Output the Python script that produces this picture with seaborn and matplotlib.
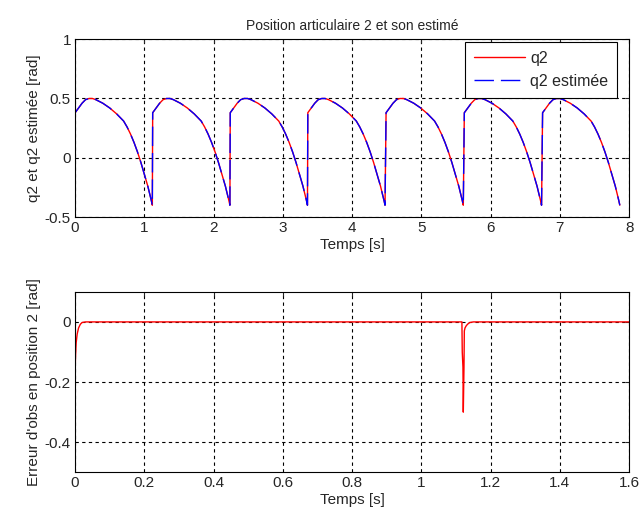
import matplotlib
matplotlib.use("Agg")
import matplotlib.pyplot as plt
import numpy as np
import pandas as pd
import seaborn as sns

# one cycle of the joint trajectory (time within cycle, q2 value)
cycle_tau = [0.0, 0.05, 0.1, 0.15, 0.2, 0.25, 0.3, 0.4, 0.5, 0.6, 0.7, 0.75,
             0.8, 0.85, 0.9, 0.95, 1.0, 1.05, 1.1, 1.115]
cycle_q2 = [0.38, 0.42, 0.46, 0.49, 0.50, 0.50, 0.49, 0.46, 0.42, 0.37, 0.31, 0.26,
            0.20, 0.13, 0.05, -0.04, -0.14, -0.24, -0.36, -0.40]
cycle_starts = [0.0, 1.12, 2.24, 3.36, 4.49, 5.62, 6.75]

# observer error (zoomed on the first 1.6 s)
err_t = [0.0, 0.001, 0.003, 0.006, 0.01, 0.015, 0.02, 0.03, 1.117, 1.118, 1.120,
         1.121, 1.123, 1.124, 1.126, 1.13, 1.135, 1.14, 1.15, 1.6]
err_val = [-0.165, -0.12, -0.07, -0.04, -0.02, -0.008, -0.002, 0.0, 0.0, -0.1,
           -0.15, -0.30, -0.15, -0.03, -0.02, -0.012, -0.006, -0.002, 0.0, 0.0]

# stitch the cycles together
t_all, q_all = [], []
for s in cycle_starts:
    t_all += [s + tau for tau in cycle_tau]
    q_all += cycle_q2
df = pd.DataFrame({"t": t_all, "q2": q_all, "q2_est": q_all})
df_err = pd.DataFrame({"t": err_t, "err": err_val})

sns.set_style("white")
plt.rcParams["font.family"] = ["Liberation Sans", "DejaVu Sans"]
plt.rcParams["font.size"] = 11

fig = plt.figure(figsize=(6.42, 5.23), dpi=100)
ax1 = fig.add_axes([0.117, 0.585, 0.863, 0.340])
ax2 = fig.add_axes([0.117, 0.097, 0.863, 0.345])

sns.lineplot(data=df, x="t", y="q2", ax=ax1, color="#ff0000", lw=1,
             estimator=None, sort=False, label="q2")
sns.lineplot(data=df, x="t", y="q2_est", ax=ax1, color="#0000ff", lw=1,
             estimator=None, sort=False, label="q2 estimée", dashes=False)
ax1.lines[1].set_dashes([14, 5])
ax1.set_xlim(0, 8)
ax1.set_ylim(-0.5, 1)
ax1.set_yticks([-0.5, 0, 0.5, 1])
ax1.set_yticklabels(["-0.5", "0", "0.5", "1"])
ax1.set_title("Position articulaire 2 et son estimé", fontsize=10, pad=7)
ax1.set_xlabel("Temps [s]", labelpad=2)
ax1.set_ylabel("q2 et q2 estimée [rad]", labelpad=3)
leg = ax1.legend(loc="upper right", bbox_to_anchor=(0.978, 0.983), fancybox=False,
                 framealpha=1, fontsize=11.5, edgecolor="black", borderaxespad=0,
                 handlelength=3.2, handletextpad=0.3, borderpad=0.55, labelspacing=0.5)
leg.get_frame().set_linewidth(0.8)

sns.lineplot(data=df_err, x="t", y="err", ax=ax2, color="#ff0000", lw=1,
             estimator=None, sort=False)
ax2.set_xlim(0, 1.6)
ax2.set_ylim(-0.5, 0.1)
ax2.set_yticks([-0.4, -0.2, 0])
ax2.set_yticklabels(["-0.4", "-0.2", "0"])
ax2.set_xticks([0, 0.2, 0.4, 0.6, 0.8, 1.0, 1.2, 1.4, 1.6])
ax2.set_xticklabels(["0", "0.2", "0.4", "0.6", "0.8", "1", "1.2", "1.4", "1.6"])
ax2.set_xlabel("Temps [s]", labelpad=2)
ax2.set_ylabel("Erreur d'obs en position 2 [rad]", labelpad=3)

for ax in (ax1, ax2):
    ax.grid(True, color="black", linestyle=(0, (3, 3)), linewidth=0.8)
    ax.tick_params(direction="in", length=3, top=True, right=True, labelsize=11, pad=3)
    for sp in ax.spines.values():
        sp.set_color("black")
        sp.set_linewidth(0.8)

fig.savefig("out.png", dpi=100)
